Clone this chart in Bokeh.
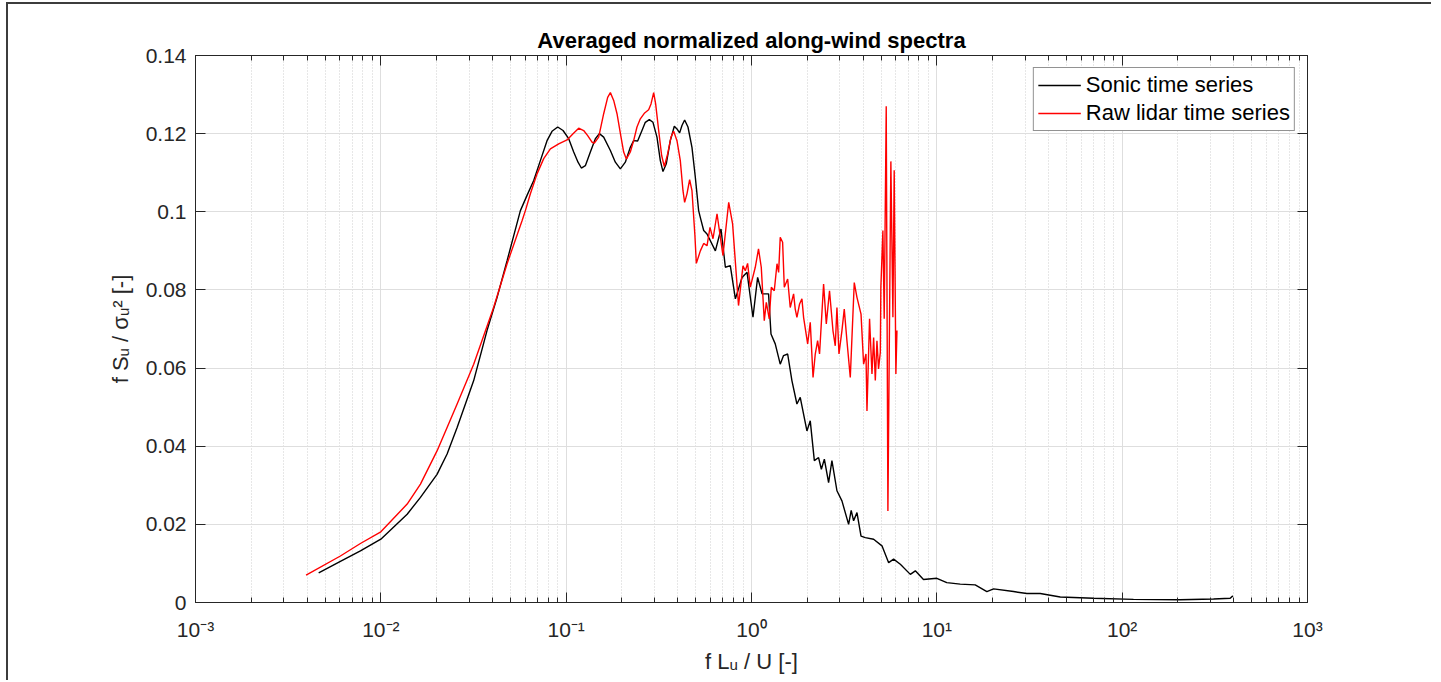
from bokeh.plotting import figure
from bokeh.models import (Range1d, LogAxis, LinearAxis, FixedTicker,
                          CustomJSTickFormatter)
from bokeh.embed import file_html
from bokeh.resources import INLINE

# ---- data ----
sonic_x = [0.00462, 0.00605, 0.00776, 0.0100, 0.01387, 0.01636, 0.0201, 0.02278,
           0.0258, 0.0317, 0.0374, 0.0424, 0.0480, 0.05662, 0.06150, 0.06682,
           0.07258, 0.07884, 0.08389, 0.09002, 0.09618, 0.10320, 0.10980,
           0.11587, 0.12077, 0.12691, 0.13506, 0.14372, 0.15104, 0.15937,
           0.17318, 0.18424, 0.19606, 0.20856, 0.22190, 0.23128, 0.24305,
           0.25647, 0.26733, 0.28094, 0.29402, 0.30903, 0.32208, 0.33293,
           0.34700, 0.36468, 0.38325, 0.39617, 0.40951, 0.42157, 0.43576,
           0.45418, 0.47730, 0.49746, 0.51849, 0.5297, 0.5521,
           0.5754, 0.6383, 0.6846, 0.7228, 0.7685, 0.8185, 0.8892, 0.9462,
           1.0186, 1.079, 1.140, 1.236, 1.274, 1.343, 1.429, 1.489, 1.567,
           1.652, 1.758, 1.832, 1.991, 2.075, 2.183, 2.301, 2.382, 2.472,
           2.606, 2.716, 2.891, 3.076, 3.342, 3.451, 3.556, 3.707, 3.899,
           4.111, 4.560, 5.058, 5.495, 5.845, 6.353, 7.194, 7.656, 8.472,
           10.0, 11.32, 13.37, 16.11, 18.62, 20.23, 25.94, 30.62, 36.14,
           46.34, 69.98, 115.1, 205.6, 311.2, 382.8, 395.4]
sonic_y = [0.0076, 0.0105, 0.0132, 0.0162, 0.0226, 0.0269, 0.0328, 0.0380,
           0.0448, 0.0568, 0.0696, 0.0781, 0.0875, 0.1003, 0.1042, 0.1080,
           0.1131, 0.1182, 0.1206, 0.1217, 0.1208, 0.1187, 0.1153,
           0.1127, 0.1112, 0.1118, 0.1153, 0.1187, 0.1200, 0.1191,
           0.1157, 0.1127, 0.1110, 0.1127, 0.1165, 0.1182, 0.1181,
           0.1208, 0.1229, 0.1236, 0.1229, 0.1191, 0.1131, 0.1103,
           0.1123, 0.1182, 0.1219, 0.1212, 0.1202, 0.1221, 0.1235,
           0.1217, 0.1165, 0.1089, 0.1003, 0.0985, 0.0952,
           0.0943, 0.0900, 0.0956, 0.0858, 0.0862, 0.0777, 0.0832, 0.0845,
           0.0730, 0.0832, 0.0790, 0.0790, 0.0687, 0.0662, 0.0610, 0.0632,
           0.0636, 0.0568, 0.0508, 0.0525, 0.0439, 0.0465, 0.0363, 0.0371,
           0.0341, 0.0367, 0.0307, 0.0363, 0.0286, 0.0260, 0.0200, 0.0236,
           0.0209, 0.0230, 0.0170, 0.0166, 0.0162, 0.0145, 0.0102, 0.0111,
           0.0098, 0.0072, 0.0081, 0.0059, 0.0062, 0.0051, 0.0047, 0.0045,
           0.0028, 0.0035, 0.0028, 0.0023, 0.0023, 0.0014, 0.0011, 0.0008,
           0.0007, 0.0009, 0.0011, 0.0017]

lidar_x = [0.00395, 0.00605, 0.00776, 0.0100, 0.01387, 0.01636, 0.0201, 0.02278,
           0.0258, 0.0317, 0.0406, 0.0480, 0.0578, 0.06025, 0.06411, 0.06965,
           0.07565, 0.08219, 0.09114, 0.10108, 0.10890, 0.11684, 0.12431,
           0.13064, 0.13789, 0.14193, 0.14979, 0.15937, 0.16749, 0.17318,
           0.18046, 0.18808, 0.19769, 0.20429, 0.21119, 0.22190, 0.23128,
           0.24104, 0.25127, 0.26513, 0.27862, 0.28700, 0.29659, 0.30397,
           0.31558, 0.32747, 0.33849, 0.35281, 0.36771, 0.38019, 0.39617,
           0.41291, 0.42684, 0.43576, 0.44856, 0.46368, 0.47730, 0.4950,
           0.5039, 0.5297, 0.5521, 0.5754, 0.5970, 0.6199, 0.6516, 0.7015,
           0.7534, 0.7907, 0.8511, 0.8995, 0.926, 0.9528, 0.9851, 1.048, 1.091,
           1.129, 1.172, 1.202, 1.247, 1.279, 1.327, 1.373, 1.401, 1.429,
           1.472, 1.503, 1.567, 1.618, 1.687, 1.722, 1.758, 1.817, 1.871,
           1.910, 2.009, 2.075, 2.148, 2.208, 2.274, 2.329, 2.449, 2.533,
           2.636, 2.751, 2.831, 2.891, 2.965, 3.076, 3.166, 3.273, 3.412,
           3.585, 3.707, 3.899, 4.026, 4.147, 4.198, 4.335, 4.467, 4.560,
           4.656, 4.753, 4.847, 4.955, 4.989, 5.117, 5.201, 5.333, 5.445,
           5.649, 5.794, 5.888, 6.012, 6.093]
lidar_y = [0.0070, 0.0119, 0.0151, 0.0181, 0.0252, 0.0303, 0.0388, 0.0448,
           0.0508, 0.0610, 0.0755, 0.0867, 0.0977, 0.1003, 0.1046, 0.1097,
           0.1136, 0.1161, 0.1174, 0.1184, 0.1200, 0.1214, 0.1208,
           0.1195, 0.1178, 0.1176, 0.1191, 0.1251, 0.1293, 0.1305,
           0.1285, 0.1251, 0.1191, 0.1153, 0.1135, 0.1153, 0.1182,
           0.1217, 0.1238, 0.1253, 0.1261, 0.1276, 0.1305, 0.1276,
           0.1208, 0.1144, 0.1116, 0.1148, 0.1191, 0.1206, 0.1182,
           0.1131, 0.1054, 0.1024, 0.1046, 0.1082, 0.1054, 0.0940,
           0.0868, 0.0900, 0.0919, 0.0913, 0.0960, 0.0931, 0.0995, 0.0888,
           0.1024, 0.0969, 0.0760, 0.0862, 0.0849, 0.0868, 0.0807, 0.0858, 0.0905,
           0.0858, 0.0721, 0.0768, 0.0726, 0.0807, 0.0798, 0.0867, 0.0845,
           0.0935, 0.0922, 0.0807, 0.0828, 0.0755, 0.0790, 0.0751, 0.0730,
           0.0764, 0.0777, 0.0730, 0.0662, 0.0717, 0.0576, 0.0636, 0.0670,
           0.0636, 0.0815, 0.0713, 0.0798, 0.0696, 0.0657, 0.0755, 0.0636,
           0.0696, 0.0751, 0.0670, 0.0576, 0.0819, 0.0781, 0.0738, 0.0610,
           0.0636, 0.0490, 0.0726, 0.0585, 0.0678, 0.0568, 0.0670, 0.0598,
           0.0640, 0.0807, 0.0952, 0.0726, 0.1270, 0.0234, 0.1129, 0.0730,
           0.1106, 0.0585, 0.0696]

x_ticks = [1e-3, 1e-2, 1e-1, 1e0, 1e1, 1e2, 1e3]
y_ticks = [0, 0.02, 0.04, 0.06, 0.08, 0.1, 0.12, 0.14]

TITLE = "Averaged normalized along-wind spectra"
XLABEL = "f L\u1d64 / U [-]"
YLABEL = "f S\u1d64 / \u03c3\u1d64\u00b2 [-]"
SERIES = ["Sonic time series", "Raw lidar time series"]

FONT = "Liberation Sans"
AX = "#262626"

x_minor = [m * d for d in x_ticks[:-1] for m in range(2, 10)]

p = figure(width=1425, height=678, x_axis_type="log",
           x_range=Range1d(1e-3, 1e3), y_range=Range1d(0, 0.14),
           output_backend="svg", toolbar_location=None,
           min_border_left=187, min_border_right=126,
           min_border_top=51, min_border_bottom=80,
           title=TITLE)
p.styles = {"border-left": "2px solid #3c3c3c", "border-top": "2px solid #3c3c3c",
            "margin-left": "6px", "margin-top": "2px"}

p.title.align = "center"
p.title.text_font = FONT
p.title.text_font_size = "22px"
p.title.text_font_style = "bold"
p.title.text_color = "#000000"
p.title.standoff = 5

bottom = p.below[0]
left = p.left[0]

xt = FixedTicker(ticks=x_ticks, minor_ticks=x_minor)
yt = FixedTicker(ticks=y_ticks)

sup_code = """
const e = Math.round(Math.log10(tick));
const m = {"-":"\u207b","0":"\u2070","1":"\u00b9","2":"\u00b2","3":"\u00b3"};
return "10" + String(e).split("").map(c => m[c]).join("");
"""
bottom.ticker = xt
bottom.formatter = CustomJSTickFormatter(code=sup_code)
left.ticker = yt
left.formatter = CustomJSTickFormatter(code="return tick.toString();")

blank = CustomJSTickFormatter(code="return '';")
top = LogAxis(ticker=xt, formatter=blank)
right = LinearAxis(ticker=yt, formatter=blank)
p.add_layout(top, "above")
p.add_layout(right, "right")

for ax in [bottom, left, top, right]:
    ax.axis_line_color = AX
    ax.major_tick_line_color = AX
    ax.minor_tick_line_color = AX
    ax.major_tick_in = 10
    ax.major_tick_out = 0
    ax.minor_tick_in = 5
    ax.minor_tick_out = 0
    ax.major_label_text_font = FONT
    ax.major_label_text_color = AX
    ax.major_label_text_font_size = "21px"
for ax in [top, right]:
    ax.major_label_standoff = 0
for ax in [bottom, left]:
    ax.axis_label_text_font = FONT
    ax.axis_label_text_font_size = "22px"
    ax.axis_label_text_font_style = "normal"
    ax.axis_label_text_color = AX
left.minor_tick_line_color = None
right.minor_tick_line_color = None
bottom.axis_label = XLABEL
left.axis_label = YLABEL
bottom.major_label_standoff = 15
left.major_label_standoff = 9
bottom.axis_label_standoff = 5
left.axis_label_standoff = 10

p.xgrid.grid_line_color = "#dedede"
p.xgrid.minor_grid_line_color = "#cfcfcf"
p.xgrid.minor_grid_line_dash = "1 2"
p.ygrid.grid_line_color = "#dedede"
p.outline_line_color = AX

p.line(sonic_x, sonic_y, line_color="#000000", line_width=1.4, legend_label=SERIES[0])
p.line(lidar_x, lidar_y, line_color="#ff0000", line_width=1.4, legend_label=SERIES[1])

lg = p.legend[0]
lg.location = "top_right"
lg.margin = 12
lg.padding = 4
lg.spacing = 2
lg.label_text_font = FONT
lg.label_text_font_size = "22px"
lg.label_text_color = "#000000"
lg.glyph_width = 43
lg.glyph_height = 26
lg.label_height = 26
lg.label_standoff = 5
lg.border_line_color = AX
lg.border_line_width = 1
lg.background_fill_alpha = 1.0

open("out.html", "w").write(file_html(p, INLINE))
